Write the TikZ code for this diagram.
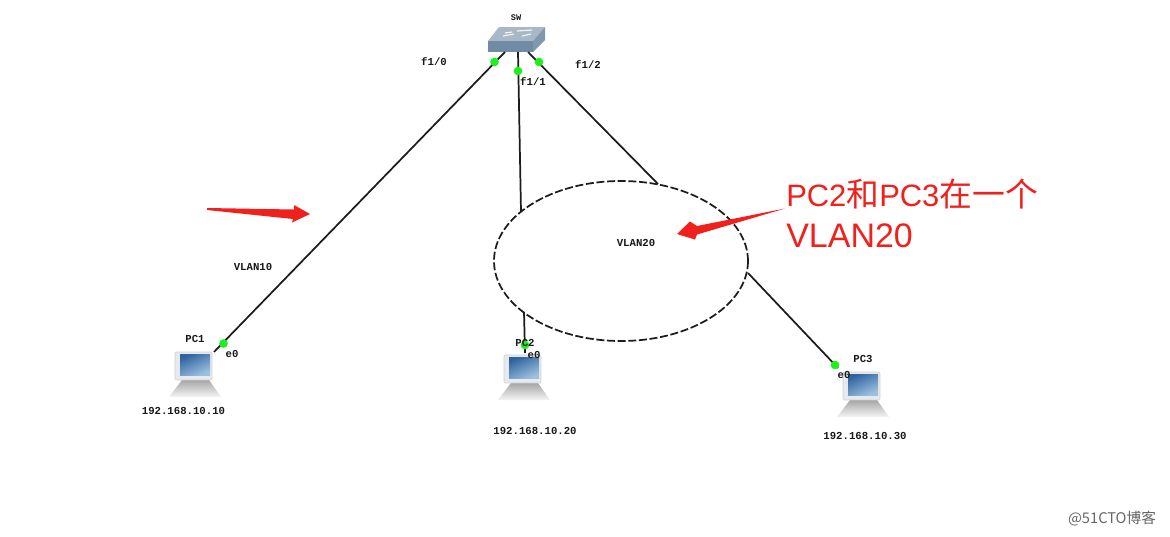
\documentclass[tikz,border=0pt]{standalone}
\usepackage{fontspec}
\setmainfont{Liberation Mono}
\newfontfamily\cjk{Noto Sans CJK SC}
\newfontfamily\notesans{Liberation Sans}
\usetikzlibrary{shapes.geometric}
\definecolor{wire}{HTML}{1C1C1C}
\definecolor{note}{HTML}{F0201C}
\definecolor{port}{HTML}{1EF01E}
\definecolor{swtop}{HTML}{A9B8C6}
\definecolor{swfront}{HTML}{6F8BA6}
\definecolor{swside}{HTML}{8098AE}
\definecolor{scrA}{HTML}{2F639E}
\definecolor{scrB}{HTML}{9CC0E0}
\definecolor{mon}{HTML}{E6EAEE}
\tikzset{
  x=0.75pt,y=-0.75pt,
  lab/.style={font=\bfseries\fontsize{8}{9}\selectfont,text=black!90,inner sep=0pt},
  notetext/.style={font=\notesans\fontsize{25.5}{30}\selectfont,text=note,inner sep=0pt,anchor=west},
  wirel/.style={draw=wire,line width=1.3pt},
  portdot/.style={circle,fill=port,draw=none,minimum size=6.5pt,inner sep=0pt},
  redarrow/.style={fill=note,draw=none},
  pics/pcicon/.style={code={
    \shade[top color=black!35,bottom color=black!4] (-14,30) -- (13,30) -- (25,47) -- (-27,47) -- cycle;
    \fill[mon] (-21,2) rectangle (16,30);
    \draw[black!18,line width=.4pt,rounded corners=1pt] (-21,2) rectangle (16,30);
    \shade[left color=scrA,right color=scrB,shading angle=25] (-16,4) rectangle (14,25);
  }},
}
\begin{document}
\begin{tikzpicture}
\useasboundingbox (0,0) rectangle (1170,536);
\fill[white] (0,0) rectangle (1170,536);

% VLAN20 ellipse
\node[ellipse,draw=wire,dash pattern=on 6pt off 2pt,line width=1.3pt,minimum width=254*0.75pt,minimum height=160*0.75pt,inner sep=0pt] (vlan) at (621,261) {};

% switch
\node[inner sep=0pt,minimum width=57*0.75pt,minimum height=25*0.75pt] (sw) at (516,39.5) {};
\fill[swtop] (499,27) -- (545,27) -- (533,41) -- (488,41) -- cycle;
\fill[swfront] (488,41) rectangle (533,52);
\fill[swside] (533,41) -- (545,27) -- (545,40) -- (533,52) -- cycle;
\draw[white!90!gray,line width=.9pt] (503,36) -- (514,34) (517,31) -- (532,30) (512,32) -- (505,33) (522,36) -- (531,34);

% PCs
\pic at (196,350) {pcicon};
\pic at (525,353) {pcicon};
\pic at (864,370) {pcicon};
\node[inner sep=0pt,minimum width=52*0.75pt,minimum height=46*0.75pt] (pc1) at (196,373) {};
\node[inner sep=0pt,minimum width=52*0.75pt,minimum height=46*0.75pt] (pc2) at (525,376) {};
\node[inner sep=0pt,minimum width=52*0.75pt,minimum height=46*0.75pt] (pc3) at (865,393) {};

% connector ends
\coordinate (a0) at (505,52);
\coordinate (a1) at (214,352);
\coordinate (b0) at (518,52);
\coordinate (b1) at (521,212);
\coordinate (b2) at (524,312);
\coordinate (b3) at (525,353);
\coordinate (c0) at (528,52);
\coordinate (c1) at (658,184);
\coordinate (c2) at (748,273);
\coordinate (c3) at (838,368);
\draw[wirel] (a0) -- (a1);
\draw[wirel] (b0) -- (b1);
\draw[wirel] (b2) -- (b3);
\draw[wirel] (c0) -- (c1);
\draw[wirel] (c2) -- (c3);

% port dots
\node[portdot] (p1) at (494.5,62) {};
\node[portdot] (p2) at (518,71) {};
\node[portdot] (p3) at (539,62) {};
\node[portdot] (p4) at (223.5,343.5) {};
\node[portdot] (p5) at (525,345) {};
\node[portdot] (p6) at (835,365) {};

% labels
\node[lab] (tsw) at (516,18) {\fontsize{6.5}{7}\selectfont SW};
\node[lab] (t1) at (434,61.5) {f1/0};
\node[lab] (t2) at (533,82) {f1/1};
\node[lab] (t3) at (588,65) {f1/2};
\node[lab] (tv10) at (253,267) {VLAN10};
\node[lab] (tv20) at (636,243) {VLAN20};
\node[lab] (n1) at (195,339) {PC1};
\node[lab] (n2) at (525,343) {PC2};
\node[lab] (n3) at (863,359) {PC3};
\node[lab] (e1) at (232,354) {e0};
\node[lab] (e2) at (534,355) {e0};
\node[lab] (e3) at (844,375) {e0};
\node[lab] (ip1) at (183.5,411) {192.168.10.10};
\node[lab] (ip2) at (535,431) {192.168.10.20};
\node[lab] (ip3) at (865,436) {192.168.10.30};

% red annotation
\fill[redarrow] (207,208) -- (294,209.5) -- (294,205) -- (310,214) -- (292,222.5) -- (293,219) -- (207,210) -- cycle;
\fill[redarrow] (785,208.5) -- (697,226) -- (690,221.5) -- (677,234) -- (695,239.5) -- (697,234.5) -- cycle;
\node[notetext,font=\notesans\fontsize{23.2}{30}\selectfont] (note1) at (786,193.5) {PC2{\cjk\fontsize{24.6}{30}\selectfont 和}PC3{\cjk\fontsize{24.6}{30}\selectfont 在一个}};
\node[notetext] (note2) at (786,236) {VLAN20};

% watermark
\node[font=\cjk\fontsize{11}{13}\selectfont,text=black!60,inner sep=0pt] (wm) at (1112,519) {@51CTO博客};
\end{tikzpicture}
\end{document}
